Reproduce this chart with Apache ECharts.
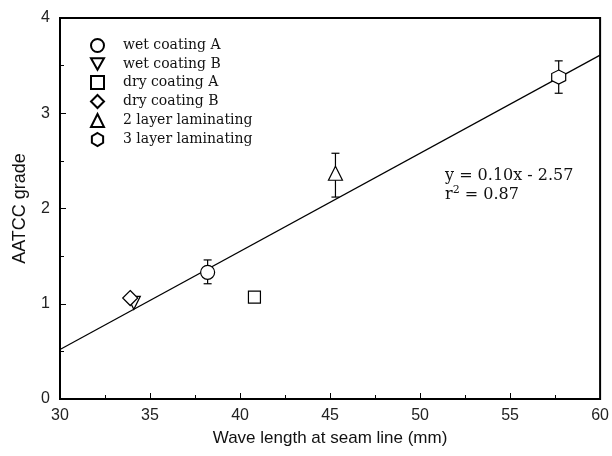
<!DOCTYPE html>
<html>
<head>
<meta charset="utf-8">
<script src="https://cdn.jsdelivr.net/npm/echarts@6/dist/echarts.min.js"></script>
<style>html,body{margin:0;padding:0;background:#fff}#c{width:612px;height:456px}</style>
</head>
<body>
<div id="c"></div>
<script>
// Data
var seriesNames = ['wet coating A', 'wet coating B', 'dry coating A', 'dry coating B', '2 layer laminating', '3 layer laminating'];
var waveLength = [38.2, 34.1, 40.8, 33.9, 45.3, 57.7];
var aatccGrade = [1.33, 1.01, 1.07, 1.06, 2.37, 3.38];
var errLow  = [1.21, null, null, null, 2.12, 3.21];
var errHigh = [1.46, null, null, null, 2.58, 3.55];
var fitX = [30, 60];
var fitY = [0.52, 3.61];
var xTicks = [30, 35, 40, 45, 50, 55, 60];
var yTicks = [0, 1, 2, 3, 4];

var hexPath = 'path://M0,-1 L0.866,-0.5 L0.866,0.5 L0,1 L-0.866,0.5 L-0.866,-0.5 Z';
var symbols = ['circle', 'path://M-1,-0.85 L1,-0.85 L0,0.9 Z', 'rect', 'diamond', 'triangle', hexPath];
var sizes = [14, 13, 12, 15, 14, 14];

var chart = echarts.init(document.getElementById('c'), null, {renderer: 'canvas'});
var series = [];
series.push({
  type: 'line', name: 'fit', data: fitX.map(function (x, i) { return [x, fitY[i]]; }),
  symbol: 'none', lineStyle: {color: '#000', width: 1.2}, silent: true, z: 1
});
var errData = [];
for (var i = 0; i < waveLength.length; i++) {
  if (errLow[i] !== null) errData.push([waveLength[i], errLow[i], errHigh[i]]);
}
series.push({
  type: 'custom', name: 'err', data: errData, z: 2,
  renderItem: function (params, api) {
    var x = api.value(0);
    var lo = api.coord([x, api.value(1)]);
    var hi = api.coord([x, api.value(2)]);
    var w = 4;
    var st = {stroke: '#000', lineWidth: 1.2};
    return {type: 'group', children: [
      {type: 'line', shape: {x1: lo[0], y1: lo[1], x2: hi[0], y2: hi[1]}, style: st},
      {type: 'line', shape: {x1: lo[0] - w, y1: lo[1], x2: lo[0] + w, y2: lo[1]}, style: st},
      {type: 'line', shape: {x1: hi[0] - w, y1: hi[1], x2: hi[0] + w, y2: hi[1]}, style: st}
    ]};
  }
});
seriesNames.forEach(function (n, i) {
  series.push({
    type: 'scatter', name: n, data: [[waveLength[i], aatccGrade[i]]],
    symbol: symbols[i], symbolSize: sizes[i], z: 3,
    itemStyle: {color: '#fff', borderColor: '#000', borderWidth: 1.2, opacity: 1}
  });
});

chart.setOption({
  animation: false,
  backgroundColor: '#fff',
  grid: {left: 60, right: 8, top: 18, bottom: 57, show: true, borderColor: '#000', borderWidth: 2, backgroundColor: 'transparent'},
  legend: {
    data: seriesNames, orient: 'vertical', left: 85, top: 33, itemWidth: 13, itemHeight: 13, itemGap: 4,
    textStyle: {fontFamily: 'DejaVu Serif', fontSize: 14, lineHeight: 13, color: '#111', padding: [0, 0, 0, 14]},
    inactiveColor: '#000'
  },
  xAxis: {
    type: 'value', min: 30, max: 60, interval: 5,
    name: 'Wave length at seam line (mm)', nameLocation: 'middle', nameGap: 31,
    nameTextStyle: {fontFamily: 'Liberation Sans', fontSize: 17, color: '#111'},
    axisLine: {show: true, lineStyle: {color: '#000', width: 2}},
    axisTick: {show: true, inside: true, length: 6, lineStyle: {color: '#000'}},
    minorTick: {show: true, splitNumber: 2, length: 4, lineStyle: {color: '#000'}},
    splitLine: {show: false},
    axisLabel: {margin: 9, fontFamily: 'Liberation Sans', fontSize: 16, color: '#222',
      formatter: function (v) { return xTicks.indexOf(v) >= 0 ? String(v) : ''; }}
  },
  yAxis: {
    type: 'value', min: 0, max: 4, interval: 1,
    name: 'AATCC grade', nameLocation: 'middle', nameGap: 31,
    nameTextStyle: {fontFamily: 'Liberation Sans', fontSize: 18, color: '#111'},
    axisLine: {show: true, lineStyle: {color: '#000', width: 2}},
    axisTick: {show: true, inside: true, length: 6, lineStyle: {color: '#000'}},
    minorTick: {show: true, splitNumber: 2, length: 4, lineStyle: {color: '#000'}},
    splitLine: {show: false},
    axisLabel: {margin: 10, fontFamily: 'Liberation Sans', fontSize: 16, color: '#222',
      formatter: function (v) { return yTicks.indexOf(v) >= 0 ? String(v) : ''; }}
  },
  graphic: [{
    type: 'text', left: 445, top: 166,
    style: {
      text: 'y = 0.10x - 2.57\n{r|r}{s|2}{r| = 0.87}',
      fontFamily: 'DejaVu Serif', fontSize: 16, fill: '#111', lineHeight: 19,
      rich: {
        r: {fontFamily: 'DejaVu Serif', fontSize: 16, fill: '#111', lineHeight: 19},
        s: {fontFamily: 'DejaVu Serif', fontSize: 11, fill: '#111', verticalAlign: 'top', lineHeight: 12, padding: [0, 0, 8, 0]}
      }
    }
  }],
  series: series
});
</script>
</body>
</html>
